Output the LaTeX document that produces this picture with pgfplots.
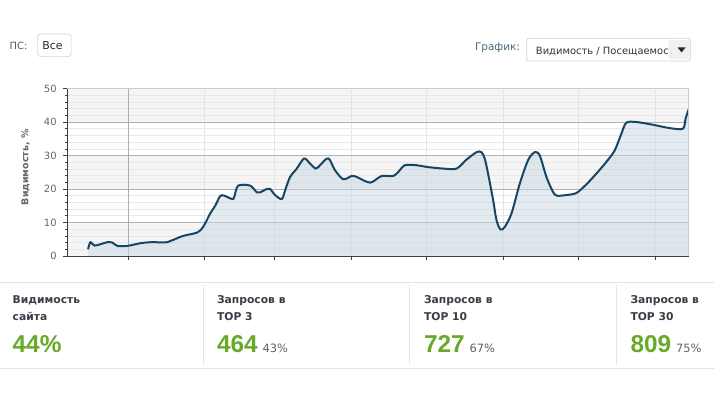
\documentclass[border=0pt]{standalone}
\usepackage{fontspec}
\setmainfont{DejaVu Sans}
\newfontfamily\lib{Liberation Sans}
\usepackage{pgfplots}
\usepackage{pgfplotstable}
\pgfplotsset{compat=1.18}
\definecolor{linec}{RGB}{22,70,100}
\definecolor{fillc}{RGB}{200,214,226}
\definecolor{bandc}{RGB}{245,245,245}
\definecolor{sepc}{RGB}{228,228,228}
\definecolor{greenc}{RGB}{104,170,40}
\definecolor{headc}{RGB}{55,62,70}
\definecolor{grafc}{RGB}{74,106,120}
\pgfplotstableread{
x y
87.7 2
90 4.1
94 3.1
100 3.5
107 4.1
112 4
117 3
127 3
140 3.8
150 4.1
167 4.1
173 4.8
183 6
197 7
203 8.7
210 12.7
215 15
220 17.9
224 18
232 17
234 17.6
238 21
250 21
256.7 19
260 19
266.7 20
270 20
275 18.2
281.7 17
285 19.6
290 23.6
296.7 26.1
304 29.1
310 27.6
315.7 26.1
320 27.1
326.7 29.1
330 28.6
335 25.6
343.3 22.9
351.7 23.9
356.7 23.6
363.3 22.6
370 21.9
375 22.6
381.7 23.9
393.3 23.9
398.3 25.1
405 27.1
416.7 27.1
426.7 26.6
443.3 26.1
456.7 26.1
466.7 28.8
476.7 31
481.7 31
485 29
488.3 24.5
493.3 16.7
496.7 10.7
500.7 7.9
505 8.7
511.7 12.7
520 21.6
528.3 28.6
535 31
540 30
546.7 23.6
553.3 19.1
557.3 18
566.7 18.2
576.7 18.8
586.7 21.4
596.7 24.6
606.7 28.1
615 31.5
621.7 36.5
626.7 39.8
636.7 40
653.3 39.2
670 38.2
683.3 38
686 41
689.3 44
}\vis
\begin{document}
\begin{tikzpicture}[x=1bp,y=1bp]
\fill[white] (0,0) rectangle (714,395);
% top controls
\node[anchor=base west,inner sep=0,text=black!65,font=\fontsize{10}{12}\selectfont] at (9,345) {ПС:};
\draw[draw=black!17,rounded corners=3bp,line width=0.7bp] (37.3,338.3) rectangle (70.7,361);
\node[anchor=base west,inner sep=0,text=black!85,font=\fontsize{11}{12}\selectfont] at (41.7,345) {Все};
\node[anchor=base west,inner sep=0,text=grafc,font=\fontsize{10.5}{12}\selectfont] at (475,344) {График:};
\draw[draw=black!18,rounded corners=2bp,line width=0.7bp] (527,334) rectangle (690.7,356.7);
\begin{scope}
\clip (530,335) rectangle (668,356);
\node[anchor=base west,inner sep=0,text=black!80,font=\fontsize{10}{12}\selectfont] at (536,340.5) {Видимость / Посещаемость};
\end{scope}
\fill[black!6,rounded corners=2bp] (669,336) rectangle (690,355);
\fill[black!85] (678,347.5) -- (686,347.5) -- (682,342.5) -- cycle;
% plot bands
\foreach \a/\b in {0/10,20/30,40/50}{
  \fill[bandc] (66.7,138.7+\a*3.352) rectangle (689.3,138.7+\b*3.352);
}
\begin{axis}[
  at={(66.7bp,138.7bp)}, anchor=south west, scale only axis,
  width=622.6bp, height=167.6bp,
  xmin=66.7, xmax=689.3, ymin=0, ymax=50,
  axis line style={draw=none},
  xtick={204.3,274.3,351,426,503.3,578.3,655.3}, xticklabels={},
  extra x ticks={127.7}, extra x tick labels={},
  extra x tick style={grid=none},
  ytick={0,10,20,30,40,50}, minor y tick num=4,
  tick align=outside, xtick pos=bottom, ytick pos=left,
  major tick length=4bp, minor tick length=2.5bp,
  every tick/.style={draw=black!75, line width=0.6bp},
  ymajorgrids, yminorgrids, xmajorgrids,
  major y grid style={draw=black!30, line width=0.7bp},
  minor y grid style={draw=black!9, line width=0.6bp},
  major x grid style={draw=black!10, line width=0.6bp},
  /pgf/number format/assume math mode=true,
  yticklabel style={font=\fontsize{10}{11}\selectfont, text=black!60, xshift=-3bp},
  ylabel={Видимость, \%},
  ylabel style={at={(axis description cs:-0.067,0.53)}, anchor=center, font=\bfseries\fontsize{9.5}{11}\selectfont, text=black!60},
]
\draw[black!32,line width=0.8bp] (axis cs:127.7,0) -- (axis cs:127.7,50);
\addplot[draw=none, fill=fillc, fill opacity=0.5, smooth] table {\vis} \closedcycle;
\addplot[linec, line width=2bp, smooth] table {\vis};
\end{axis}
\draw[black!20,line width=0.8bp] (66.7,306.3) -- (689.3,306.3) -- (689.3,138.7);
\draw[black!75,line width=0.8bp] (66.7,306.3) -- (66.7,138.7) -- (689.3,138.7);
% bottom panel
\draw[sepc,line width=1bp] (0,112) -- (714,112);
\draw[sepc,line width=1bp] (0,26) -- (714,26);
\foreach \xx in {203.3,410,617.3}{\draw[sepc,line width=1bp] (\xx,110) -- (\xx,30);}
\foreach \xx/\la/\lb/\num/\pc in {12/Видимость/сайта/44\%/,216.7/Запросов в/TOP 3/464/43\%,424/Запросов в/TOP 10/727/67\%,630.7/Запросов в/TOP 30/809/75\%}{
  \node[anchor=base west,inner sep=0,text=headc,font=\bfseries\fontsize{10.8}{12}\selectfont] at (\xx,91) {\la};
  \node[anchor=base west,inner sep=0,text=headc,font=\bfseries\fontsize{10.8}{12}\selectfont] at (\xx,74.3) {\lb};
  \node[anchor=base west,inner sep=0,text=greenc,font=\lib\bfseries\fontsize{24.5}{26}\selectfont] (n) at (\xx,42.3) {\num};
  \node[anchor=base west,inner sep=0,text=black!62,font=\fontsize{11.5}{12}\selectfont] at ([xshift=4.5bp]n.base east) {\pc};
}
\end{tikzpicture}
\end{document}
